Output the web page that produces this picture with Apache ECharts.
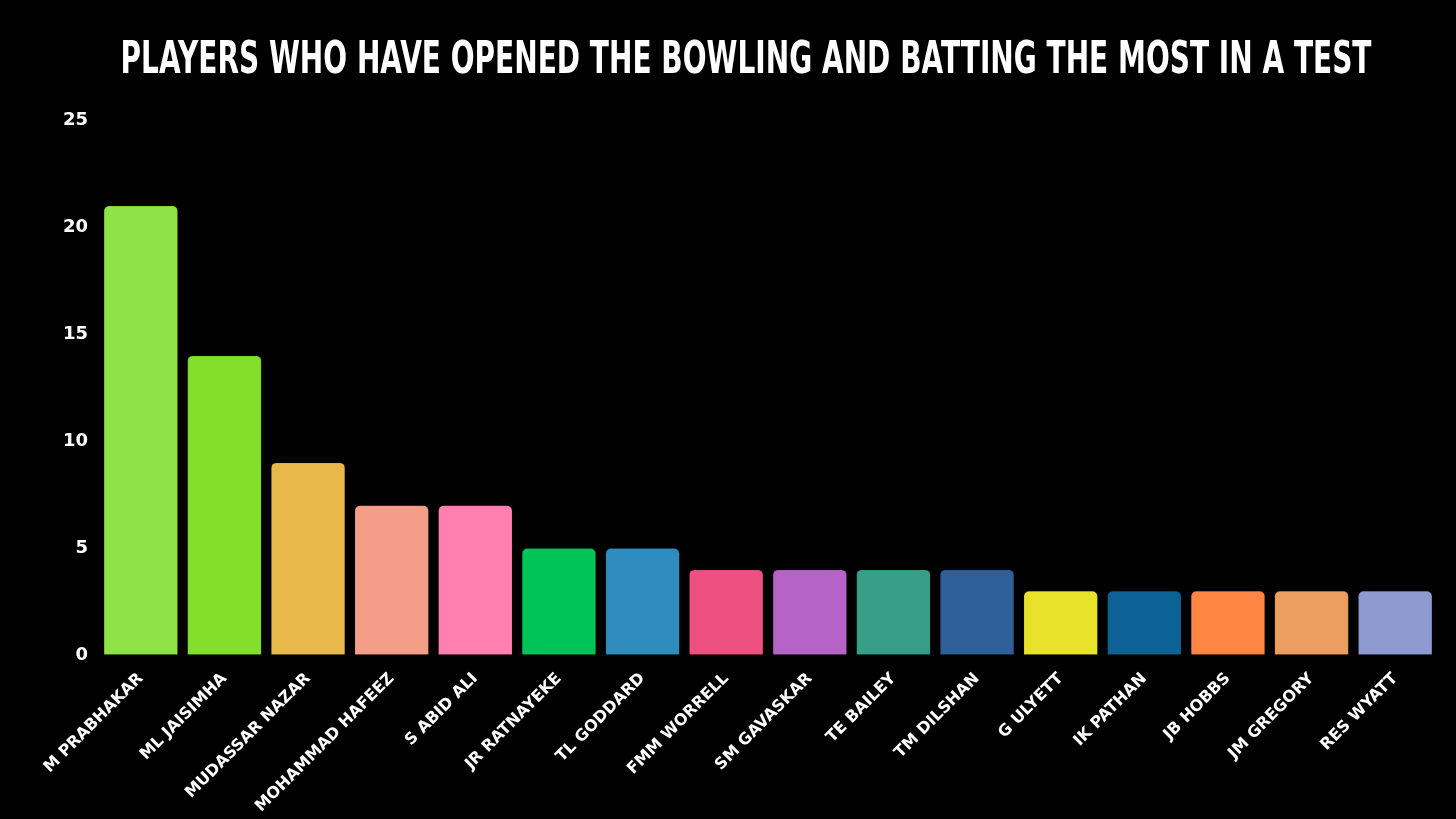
<!DOCTYPE html>
<html>
<head>
<meta charset="utf-8">
<script src="https://cdn.jsdelivr.net/npm/echarts@6/dist/echarts.min.js"></script>
<style>
html,body{margin:0;padding:0;background:#000;}
#chart{width:1456px;height:819px;}
</style>
</head>
<body>
<div id="chart"></div>
<script>
const players = ["M PRABHAKAR","ML JAISIMHA","MUDASSAR NAZAR","MOHAMMAD HAFEEZ","S ABID ALI","JR RATNAYEKE","TL GODDARD","FMM WORRELL","SM GAVASKAR","TE BAILEY","TM DILSHAN","G ULYETT","IK PATHAN","JB HOBBS","JM GREGORY","RES WYATT"];
const tests = [21,14,9,7,7,5,5,4,4,4,4,3,3,3,3,3];
const barColors = ["#8FE346","#82E02C","#E8B84A","#F49E8A","#FF80AE","#00C457","#2E8DBE","#EE5082","#B663C8","#379E88","#2F5F98","#E8E22A","#0C6294","#FF8544","#EC9E60","#8F9BD0"];
const yTicks = [0,5,10,15,20,25];
const titleText = 'PLAYERS WHO HAVE OPENED THE BOWLING AND BATTING THE MOST IN A TEST';

const chart = echarts.init(document.getElementById('chart'));
const font = '"DejaVu Sans", sans-serif';
chart.setOption({
  backgroundColor: '#000',
  animation: false,
  graphic: [{
    type: 'text',
    x: 746, y: 62,
    scaleX: 0.637, scaleY: 1,
    style: {
      text: titleText,
      fill: '#fff',
      font: 'bold 44px "DejaVu Sans", sans-serif',
      textAlign: 'center',
      textVerticalAlign: 'middle'
    }
  }],
  grid: {left: 99, right: 19, top: 120, bottom: 164, containLabel: false, outerBoundsMode: 'none'},
  xAxis: {
    type: 'category',
    data: players,
    axisLine: {show: false},
    axisTick: {show: false},
    axisLabel: {color: '#fff', rotate: 45, fontFamily: font, fontWeight: 'bold', fontSize: 16, interval: 0, margin: 21}
  },
  yAxis: {
    type: 'value',
    min: yTicks[0], max: yTicks[yTicks.length-1], interval: 5,
    splitLine: {show: false},
    axisLine: {show: false},
    axisTick: {show: false},
    axisLabel: {color: '#fff', fontFamily: font, fontWeight: 'bold', fontSize: 18, margin: 11}
  },
  series: [{
    type: 'bar',
    data: tests.map((v, i) => ({value: v, itemStyle: {color: barColors[i]}})),
    barCategoryGap: '11%',
    itemStyle: {borderRadius: [5,5,0,0], borderColor: 'rgba(0,0,0,0.12)', borderWidth: 1}
  }]
});
</script>
</body>
</html>
